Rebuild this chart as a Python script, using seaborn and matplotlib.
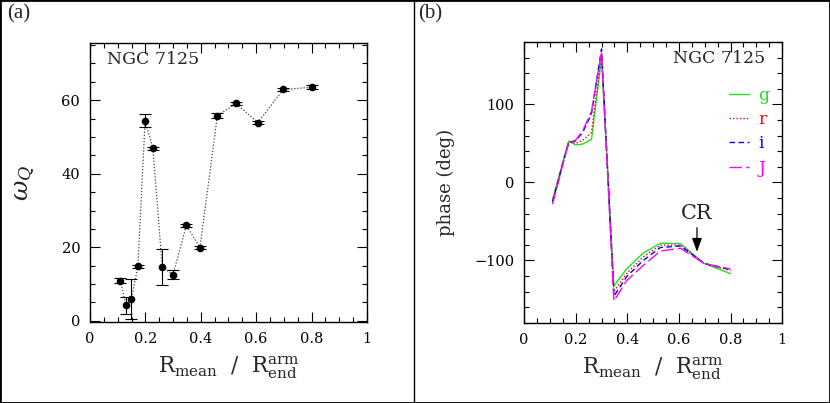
import numpy as np
import pandas as pd
import matplotlib
matplotlib.use("Agg")
import matplotlib.pyplot as plt
import seaborn as sns
from matplotlib.ticker import MultipleLocator, FuncFormatter
from matplotlib.lines import Line2D
from matplotlib.patches import Rectangle

# ---------------- data ----------------
r_ratio = [0.110, 0.130, 0.149, 0.173, 0.199, 0.227, 0.261, 0.300,
           0.348, 0.397, 0.460, 0.528, 0.606, 0.698, 0.800]
omega_q = [10.9, 4.3, 5.9, 14.8, 54.4, 46.9, 14.6, 12.6,
           26.0, 19.9, 55.8, 59.1, 53.9, 62.9, 63.5]
omega_err = [0.7, 2.3, 5.5, 0.5, 1.8, 0.4, 4.9, 1.1,
             0.4, 0.4, 0.6, 0.4, 0.5, 0.4, 0.6]

phase_g = [-22, 2, 25, 53, 48, 49, 55, 159, -133, -111, -91, -78, -78.5, -104, -117]
phase_r = [-24, 0, 24, 52, 50, 54, 64, 165, -140, -117, -96, -80.5, -80.5, -104, -113]
phase_i = [-25, -1, 23, 51, 53, 64, 88, 171, -146, -121, -100.5, -83.5, -81.5, -104, -112]
phase_J = [-28, -3, 22, 51, 54, 66, 91, 167, -152, -126, -107, -88, -84.5, -104, -111]
bands = ["g", "r", "i", "J"]
band_colors = {"g": "#22e022", "r": "#ff0000", "i": "#0000ff", "J": "#ff00ff"}
band_dashes = {"g": "", "r": (1, 1.5), "i": (4, 2.5), "J": (9, 3)}

cr_x = 0.67

# ---------------- style ----------------
sns.set_style("ticks")
plt.rcParams["font.family"] = ["DejaVu Serif"]
plt.rcParams["mathtext.fontset"] = "dejavuserif"

fig = plt.figure(figsize=(8.3, 4.03), dpi=100)
ax1 = fig.add_axes([0.1084, 0.201, 0.3337, 0.692])
ax2 = fig.add_axes([0.6315, 0.199, 0.3108, 0.697])

fmt = FuncFormatter(lambda v, _: f"{v:g}".replace("-", "\u2212"))
xlab = r"$\mathrm{R_{mean}}\ \ /\ \ \mathrm{R_{end}^{arm}}$"

for ax in (ax1, ax2):
    ax.set_xlim(0, 1)
    ax.xaxis.set_major_locator(MultipleLocator(0.2))
    ax.xaxis.set_minor_locator(MultipleLocator(0.05))
    ax.xaxis.set_major_formatter(fmt)
    ax.yaxis.set_major_formatter(fmt)
    ax.tick_params(which="both", direction="in", top=True, right=True,
                   labelsize=10.5, width=0.8, color="black", labelcolor="black")
    ax.tick_params(which="major", length=7, pad=7)
    ax.tick_params(which="minor", length=3.5)
    for s in ax.spines.values():
        s.set_linewidth(1.0)
        s.set_color("black")

# ---------------- panel (a) ----------------
df_a = pd.DataFrame({"r": r_ratio, "w": omega_q})
sns.lineplot(data=df_a, x="r", y="w", ax=ax1, color="#444444",
             linestyle=(0, (1, 1.5)), linewidth=0.9, sort=False)
ax1.errorbar(r_ratio, omega_q, yerr=omega_err, fmt="none", ecolor="black",
             elinewidth=0.8, capsize=4, capthick=0.8)
sns.scatterplot(data=df_a, x="r", y="w", ax=ax1, color="black", s=30,
                edgecolor="black", linewidth=0, zorder=5)
ax1.set_ylim(-0.3, 75.5)
ax1.yaxis.set_major_locator(MultipleLocator(20))
ax1.yaxis.set_minor_locator(MultipleLocator(5))
ax1.set_ylabel(r"$\omega_Q$", fontsize=18)
ax1.yaxis.set_label_coords(-0.19, 0.5)
ax1.set_xlabel(xlab, fontsize=15.5)
ax1.xaxis.set_label_coords(0.5, -0.115)
ax1.text(0.062, 0.94, "NGC 7125", transform=ax1.transAxes, fontsize=12.5,
         ha="left", va="center")

# ---------------- panel (b) ----------------
df_b = pd.DataFrame({
    "r": r_ratio * 4,
    "phase": phase_g + phase_r + phase_i + phase_J,
    "band": [b for b in bands for _ in r_ratio],
})
sns.lineplot(data=df_b, x="r", y="phase", hue="band", style="band",
             palette=band_colors, dashes=band_dashes, hue_order=bands,
             style_order=bands, sort=False, linewidth=1.0, ax=ax2)
ax2.set_ylim(-180, 180)
ax2.yaxis.set_major_locator(MultipleLocator(100))
ax2.yaxis.set_minor_locator(MultipleLocator(20))
ax2.set_ylabel("phase (deg)", fontsize=13)
ax2.yaxis.set_label_coords(-0.267, 0.5)
ax2.set_xlabel(xlab, fontsize=15.5)
ax2.xaxis.set_label_coords(0.5, -0.115)
ax2.text(0.934, 0.94, "NGC 7125", transform=ax2.transAxes, fontsize=12.5,
         ha="right", va="center")

handles, labels = ax2.get_legend_handles_labels()
leg = ax2.legend(handles, labels, loc="upper right", bbox_to_anchor=(0.95, 0.84),
                 frameon=False, handlelength=1.2, handletextpad=0.5,
                 labelspacing=0.42, fontsize=12.5, labelcolor="linecolor",
                 borderaxespad=0, borderpad=0)

ax2.annotate("CR", xy=(cr_x, -89), xytext=(cr_x, -40), fontsize=15,
             ha="center", va="center",
             arrowprops=dict(arrowstyle="-|>,head_width=0.2,head_length=0.55",
                             color="black", lw=0.9, shrinkA=1, shrinkB=0))

# ---------------- figure decorations ----------------
fig.text(0.023, 0.965, "(a)", fontsize=15, family="Liberation Serif",
         ha="center", va="center")
fig.text(0.518, 0.965, "(b)", fontsize=15, family="Liberation Serif",
         ha="center", va="center")
fig.add_artist(Rectangle((0.0, 0.0), 1.0, 1.0, transform=fig.transFigure,
                         fill=False, lw=2.0, edgecolor="black"))
fig.add_artist(Line2D([0.4988, 0.4988], [0, 1], transform=fig.transFigure,
                      color="black", lw=1.0))

fig.savefig("out.png", dpi=100)
